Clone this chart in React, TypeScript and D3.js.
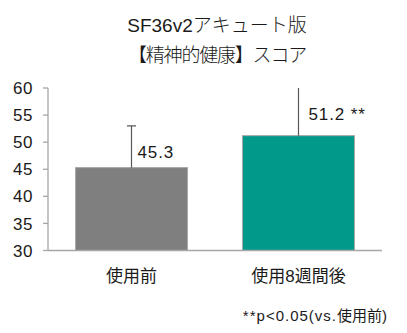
import React from "react";
import * as d3 from "d3";

const titleLines = ["SF36v2アキュート版", "【精神的健康】スコア"];
const categories = ["使用前", "使用8週間後"];
const means = [45.3, 51.2];
const errUpper = [53.0, 61.0];
const valueLabels = ["45.3", "51.2 **"];
const barColors = ["#7f7f7f", "#00998a"];
const yTicks = [30, 35, 40, 45, 50, 55, 60];
const footnoteLatin = "**p<0.05(vs.";
const footnoteCjk = "使用前)";

const W = 407;
const H = 333;
const FONT = "'Liberation Sans', Arial, 'Noto Sans CJK JP', sans-serif";
const TEXT = "#1a1a1a";

export default function App() {
  const left = 48;
  const right = 382;
  const top = 88;
  const bottom = 250.5;

  const x = d3
    .scaleBand<string>()
    .domain(categories)
    .range([left, right])
    .paddingInner(0.33)
    .paddingOuter(0.165);
  const y = d3.scaleLinear().domain([30, 60]).range([bottom, top]);

  const labelDy = [10, 16];
  const labelDx = [6, 10];

  return (
    <svg
      width={W}
      height={H}
      style={{ position: "absolute", left: 0, top: 0, background: "#fff" }}
      fontFamily={FONT}
    >
      <defs>
        <clipPath id="plot">
          <rect x={left - 10} y={top} width={right - left + 20} height={bottom - top + 2} />
        </clipPath>
      </defs>
      {titleLines.map((t, i) => (
        <text
          key={i}
          x={217}
          y={32 + i * 30}
          textAnchor="middle"
          fontSize={19}
          fontWeight={300}
          letterSpacing={i === 1 ? -1.2 : 0}
          fill={TEXT}
        >
          {t}
        </text>
      ))}
      {/* y axis */}
      <line x1={left} x2={left} y1={y(60)} y2={bottom} stroke="#a6a6a6" strokeWidth={1.3} />
      {yTicks.map((t) => (
        <g key={t}>
          <line x1={left - 5} x2={left} y1={y(t)} y2={y(t)} stroke="#a6a6a6" strokeWidth={1.3} />
          <text x={33} y={y(t)} dy="0.36em" textAnchor="end" fontSize={17} letterSpacing={0.5} fill={TEXT}>
            {t}
          </text>
        </g>
      ))}
      {/* bars */}
      {categories.map((c, i) => {
        const bx = x(c)!;
        const bw = x.bandwidth();
        const cx = bx + bw / 2;
        return (
          <g key={c}>
            <rect
              x={bx}
              y={y(means[i])}
              width={bw}
              height={bottom - y(means[i])}
              fill={barColors[i]}
              stroke="#a6a6a6"
              strokeWidth={1}
            />
            <g clipPath="url(#plot)">
              <line x1={cx} x2={cx} y1={y(means[i])} y2={y(errUpper[i])} stroke="#595959" strokeWidth={1.2} />
              <line x1={cx - 4.5} x2={cx + 4.5} y1={y(errUpper[i])} y2={y(errUpper[i])} stroke="#595959" strokeWidth={1.2} />
            </g>
            <text x={cx + labelDx[i]} y={y(means[i]) - labelDy[i]} fontSize={17} letterSpacing={0.9} fill={TEXT}>
              {valueLabels[i]}
            </text>
            <text x={cx} y={282} textAnchor="middle" fontSize={17} fill={TEXT}>
              {c}
            </text>
          </g>
        );
      })}
      {/* x axis */}
      <line x1={left} x2={right} y1={bottom} y2={bottom} stroke="#a6a6a6" strokeWidth={1.3} />
      <text x={387} y={321} textAnchor="end" fontSize={15} fill={TEXT}>
        <tspan letterSpacing={1}>{footnoteLatin}</tspan>
        <tspan>{footnoteCjk}</tspan>
      </text>
    </svg>
  );
}
